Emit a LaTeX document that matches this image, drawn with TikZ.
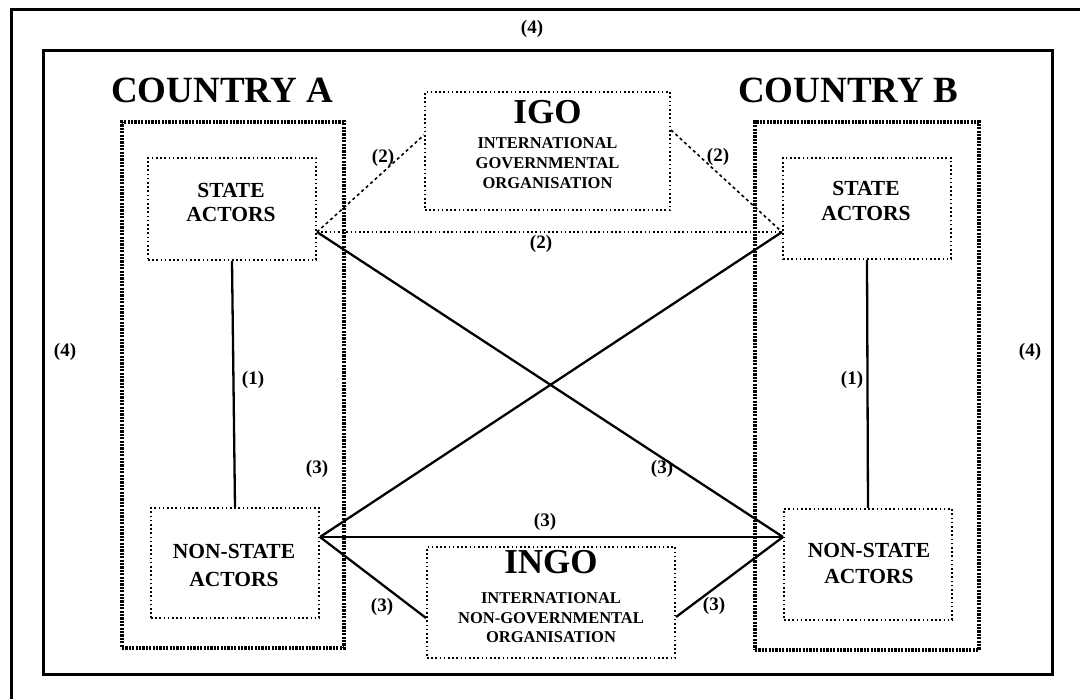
\documentclass[tikz,border=0pt]{standalone}
\usepackage{fontspec}
\setmainfont{Liberation Serif}
\begin{document}
\begin{tikzpicture}[x=1pt,y=-1pt,
  frame/.style={line width=3pt},
  countrybox/.style={draw, line width=3.4pt, dash pattern=on 2.2pt off 1.2pt},
  actorbox/.style={draw, line width=2pt, dash pattern=on 1.6pt off 2.6pt},
  orgbox/.style={draw, line width=2pt, dash pattern=on 1.6pt off 2.6pt},
  link/.style={line width=2.3pt},
  dlink/.style={line width=1.6pt, dash pattern=on 3pt off 3pt},
  plink/.style={line width=2pt, dash pattern=on 1.6pt off 2.6pt},
  titlefont/.style={font=\fontsize{37}{37}\selectfont\bfseries},
  orgtitle/.style={font=\fontsize{35}{35}\selectfont\bfseries},
  subfont/.style={font=\fontsize{16.5}{16.5}\selectfont\bfseries},
  actorfont/.style={font=\fontsize{21.5}{21.5}\selectfont\bfseries},
  lbl/.style={font=\fontsize{19}{19}\selectfont\bfseries}
]
\useasboundingbox (0,0) rectangle (1080,699);
\begin{scope}
\clip (0,0) rectangle (1080,699);
\draw[frame] (11,9) rectangle (1100,720);
\end{scope}
\draw[frame] (43,50) rectangle (1052,674);

% country boxes
\node[countrybox, minimum width=222pt, minimum height=526pt, inner sep=0pt] (boxA) at (233,385) {};
\node[countrybox, minimum width=224pt, minimum height=528pt, inner sep=0pt] (boxB) at (867,386) {};
\node[titlefont, anchor=base] (titleA) at (222,102) {COUNTRY A};
\node[titlefont, anchor=base] (titleB) at (848,102) {COUNTRY B};

% actor boxes
\node[actorbox, minimum width=168pt, minimum height=102pt, inner sep=0pt] (stA) at (232,209) {};
\node[actorbox, minimum width=168pt, minimum height=101pt, inner sep=0pt] (stB) at (867,208.5) {};
\node[actorbox, minimum width=168pt, minimum height=110pt, inner sep=0pt] (nsA) at (235,563) {};
\node[actorbox, minimum width=168pt, minimum height=111pt, inner sep=0pt] (nsB) at (868,564.5) {};

\node[actorfont, anchor=base] (stA1) at (231,197) {STATE};
\node[actorfont, anchor=base] (stA2) at (231,221) {ACTORS};
\node[actorfont, anchor=base] (stB1) at (866,195) {STATE};
\node[actorfont, anchor=base] (stB2) at (866,220) {ACTORS};
\node[actorfont, anchor=base] (nsA1) at (234,558) {NON-STATE};
\node[actorfont, anchor=base] (nsA2) at (234,586) {ACTORS};
\node[actorfont, anchor=base] (nsB1) at (869,557) {NON-STATE};
\node[actorfont, anchor=base] (nsB2) at (869,583) {ACTORS};

% organisations
\node[orgbox, minimum width=245pt, minimum height=118pt, inner sep=0pt] (igo) at (547.5,151) {};
\node[orgtitle, anchor=base] (igo0) at (547.5,123) {IGO};
\node[subfont, anchor=base] (igo1) at (547.5,148) {INTERNATIONAL};
\node[subfont, anchor=base] (igo2) at (547.5,168) {GOVERNMENTAL};
\node[subfont, anchor=base] (igo3) at (547.5,188) {ORGANISATION};

\node[orgbox, minimum width=248pt, minimum height=111pt, inner sep=0pt] (ingo) at (551,602.5) {};
\node[orgtitle, anchor=base] (ingo0) at (551,573) {INGO};
\node[subfont, anchor=base] (ingo1) at (551,603) {INTERNATIONAL};
\node[subfont, anchor=base] (ingo2) at (551,623) {NON-GOVERNMENTAL};
\node[subfont, anchor=base] (ingo3) at (551,642) {ORGANISATION};

% connection points
\coordinate (sA) at ([yshift=-23pt]stA.east);
\coordinate (sB) at ([yshift=-23.5pt]stB.west);
\coordinate (nA) at ([yshift=26pt]nsA.east);
\coordinate (nB) at ([yshift=27.5pt]nsB.west);
\coordinate (igoL) at ([yshift=16pt]igo.west);
\coordinate (igoR) at ([yshift=21pt]igo.east);
\coordinate (ingoL) at ([yshift=-15.5pt]ingo.west);
\coordinate (ingoR) at ([yshift=-14.5pt]ingo.east);

% connectors
\draw[link] (stA.south) -- (nsA.north);
\draw[link] (stB.south) -- (nsB.north);
\draw[plink] (sA) -- (sB);
\draw[dlink] (sA) -- (igoL);
\draw[dlink] (igoR) -- (sB);
\draw[link] (sA) -- (nB);
\draw[link] (nA) -- (sB);
\draw[link] (nA) -- (nB);
\draw[link] (nA) -- (ingoL);
\draw[link] (ingoR) -- (nB);

% labels
\node[lbl] (l4t) at (532,29) {(4)};
\node[lbl] (l4l) at (65,352) {(4)};
\node[lbl] (l4r) at (1030,352) {(4)};
\node[lbl] (l2l) at (383,158) {(2)};
\node[lbl] (l2r) at (718,157) {(2)};
\node[lbl] (l2m) at (541,244) {(2)};
\node[lbl] (l1a) at (253,380) {(1)};
\node[lbl] (l1b) at (852,380) {(1)};
\node[lbl] (l3a) at (317,469) {(3)};
\node[lbl] (l3b) at (662,469) {(3)};
\node[lbl] (l3c) at (545,522) {(3)};
\node[lbl] (l3d) at (382,607) {(3)};
\node[lbl] (l3e) at (714,606) {(3)};
\end{tikzpicture}
\end{document}
